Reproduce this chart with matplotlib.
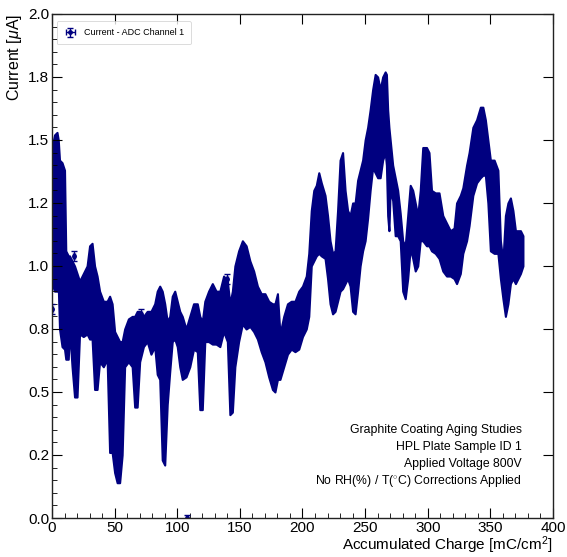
import numpy as np
import matplotlib
matplotlib.use('Agg')
import matplotlib.pyplot as plt
from matplotlib.ticker import MultipleLocator, StrMethodFormatter

plt.rcParams['font.family'] = ['Liberation Sans', 'DejaVu Sans']
plt.rcParams['mathtext.fontset'] = 'custom'
plt.rcParams['mathtext.rm'] = 'Liberation Sans'
plt.rcParams['mathtext.it'] = 'Liberation Sans:italic'

# band of current readings (lower / upper envelope of the error bars)
charge = [0, 2, 4, 5, 6, 8, 10, 11, 13, 14, 16, 18, 20, 22, 25, 28, 30, 32, 34, 36,
          38, 41, 44, 46, 48, 50, 52, 54, 56, 58, 61, 64, 66, 68, 70, 73, 76, 79, 82, 84,
          86, 88, 90, 92, 94, 96, 98, 100, 102, 104, 107, 110, 113, 116, 118, 120, 122, 125, 128, 131,
          134, 137, 140, 142, 144, 146, 149, 152, 155, 158, 161, 164, 167, 170, 173, 176, 178, 180, 182, 185,
          188, 191, 194, 197, 200, 203, 205, 207, 209, 211, 213, 215, 218, 220, 222, 224, 226, 228, 230, 232,
          234, 236, 238, 240, 242, 244, 246, 248, 250, 252, 254, 256, 258, 260, 262, 264, 266, 267, 268, 269,
          270, 272, 274, 276, 278, 280, 282, 284, 286, 288, 290, 292, 294, 296, 299, 301, 303, 306, 309, 312,
          315, 318, 321, 323, 326, 328, 331, 333, 336, 339, 342, 344, 346, 348, 350, 353, 356, 358, 360, 362,
          364, 366, 368, 370, 372, 374, 376]
current_lo = [0.93, 0.90, 0.90, 0.92, 0.75, 0.68, 0.67, 0.63, 0.63, 0.75, 0.60, 0.48, 0.48, 0.73, 0.72, 0.73, 0.71, 0.71, 0.51, 0.51,
              0.62, 0.60, 0.63, 0.26, 0.26, 0.18, 0.14, 0.14, 0.25, 0.60, 0.62, 0.60, 0.44, 0.44, 0.62, 0.68, 0.70, 0.65, 0.68, 0.57,
              0.55, 0.23, 0.21, 0.45, 0.58, 0.70, 0.71, 0.68, 0.60, 0.55, 0.56, 0.60, 0.67, 0.66, 0.43, 0.43, 0.70, 0.70, 0.69, 0.69,
              0.68, 0.74, 0.70, 0.41, 0.42, 0.60, 0.70, 0.77, 0.75, 0.76, 0.74, 0.71, 0.66, 0.62, 0.56, 0.51, 0.50, 0.55, 0.55, 0.60,
              0.65, 0.67, 0.66, 0.67, 0.72, 0.75, 0.80, 1.00, 1.02, 1.04, 1.05, 1.04, 1.03, 0.95, 0.85, 0.81, 0.82, 0.86, 0.90, 0.91,
              0.93, 0.95, 0.92, 0.82, 0.81, 0.90, 1.00, 1.06, 1.10, 1.19, 1.30, 1.39, 1.37, 1.35, 1.35, 1.42, 1.45, 1.40, 1.20, 1.14,
              1.30, 1.26, 1.12, 1.12, 1.10, 0.90, 0.87, 0.95, 1.07, 1.03, 0.98, 1.00, 1.10, 1.10, 1.08, 1.08, 1.06, 1.05, 1.03, 0.98,
              0.96, 0.96, 0.95, 0.93, 0.97, 1.05, 1.10, 1.16, 1.28, 1.33, 1.35, 1.36, 1.36, 1.25, 1.06, 1.05, 1.05, 0.95, 0.87, 0.80,
              0.85, 0.93, 0.95, 0.93, 0.95, 0.97, 1.00]
current_hi = [1.47, 1.52, 1.53, 1.50, 1.42, 1.41, 1.38, 1.06, 1.04, 1.04, 1.02, 1.00, 0.97, 0.94, 0.97, 1.00, 1.08, 1.09, 1.00, 0.96,
              0.90, 0.86, 0.86, 0.88, 0.85, 0.74, 0.72, 0.70, 0.70, 0.75, 0.79, 0.80, 0.80, 0.82, 0.82, 0.80, 0.82, 0.82, 0.85, 0.90,
              0.92, 0.90, 0.85, 0.78, 0.80, 0.88, 0.90, 0.86, 0.82, 0.80, 0.75, 0.80, 0.85, 0.85, 0.80, 0.78, 0.86, 0.90, 0.93, 0.90,
              0.90, 0.96, 0.94, 0.85, 0.90, 1.00, 1.06, 1.10, 1.08, 1.02, 0.98, 0.92, 0.89, 0.89, 0.86, 0.85, 0.85, 0.89, 0.73, 0.80,
              0.85, 0.86, 0.86, 0.90, 0.92, 0.96, 1.05, 1.22, 1.30, 1.32, 1.37, 1.33, 1.28, 1.20, 1.10, 1.05, 1.06, 1.22, 1.42, 1.45,
              1.30, 1.22, 1.20, 1.25, 1.25, 1.34, 1.38, 1.42, 1.50, 1.55, 1.62, 1.70, 1.76, 1.75, 1.70, 1.75, 1.77, 1.76, 1.62, 1.55,
              1.50, 1.40, 1.35, 1.30, 1.21, 1.10, 1.08, 1.20, 1.32, 1.30, 1.25, 1.20, 1.30, 1.47, 1.47, 1.45, 1.30, 1.29, 1.29, 1.20,
              1.17, 1.14, 1.15, 1.25, 1.28, 1.31, 1.40, 1.45, 1.55, 1.58, 1.63, 1.63, 1.58, 1.50, 1.42, 1.42, 1.38, 1.10, 1.02, 1.20,
              1.25, 1.27, 1.22, 1.14, 1.14, 1.14, 1.12]

# isolated readings drawn as single error-bar points
pt_charge = [0, 108, 17.5, 71, 140]
pt_current = [0.83, 0.0, 1.04, 0.81, 0.95]
pt_err = [0.02, 0.01, 0.02, 0.02, 0.02]

fig = plt.figure(figsize=(5.67, 5.57), dpi=100)
ax = fig.add_axes([0.0917, 0.070, 0.8836, 0.905])

col = '#000080'
ax.fill_between(charge, current_lo, current_hi, color=col, edgecolor=col, linewidth=1.5)
ax.errorbar(pt_charge, pt_current, yerr=pt_err, xerr=0.8, fmt='o', color=col, ms=2.5,
            elinewidth=1, capsize=2, label='Current - ADC Channel 1')

ax.set_xlim(0, 400)
ax.set_ylim(0, 2.0)
ax.xaxis.set_major_locator(MultipleLocator(50))
ax.xaxis.set_minor_locator(MultipleLocator(10))
ax.yaxis.set_major_locator(MultipleLocator(0.25))
ax.yaxis.set_minor_locator(MultipleLocator(0.05))
ax.yaxis.set_major_formatter(StrMethodFormatter('{x:.1f}'))
ax.tick_params(which='both', direction='in', labelsize=11, pad=2)
ax.tick_params(which='major', length=7, top=True, right=True)
ax.tick_params(which='minor', length=3.5)
for s in ax.spines.values():
    s.set_color('#222222')
    s.set_linewidth(1.0)

ax.set_xlabel('Accumulated Charge [mC/cm$^2$]', fontsize=11, loc='right', labelpad=0)
ax.set_ylabel('Current [$\\mu$A]', fontsize=11.5, loc='top', labelpad=3)

leg = ax.legend(loc='upper left', fontsize=6.5, frameon=True, borderpad=0.8,
                handlelength=1.4, bbox_to_anchor=(0.0, 0.995))
leg.get_frame().set_edgecolor('#cccccc')
leg.get_frame().set_linewidth(0.6)

lines = ['Graphite Coating Aging Studies', 'HPL Plate Sample ID 1',
         'Applied Voltage 800V', 'No RH(%) / T($^{\\circ}$C) Corrections Applied']
for i, t in enumerate(lines):
    ax.text(0.938, 0.175 - i * 0.0337, t, transform=ax.transAxes, ha='right',
            va='center', fontsize=8.8)

fig.savefig('out.png', dpi=100)
